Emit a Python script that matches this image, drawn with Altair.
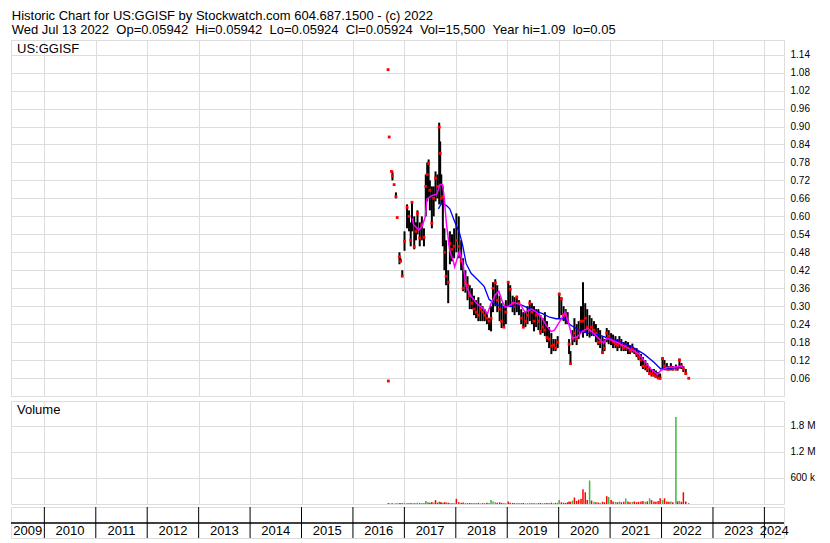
import altair as alt
import pandas as pd

FONT = "Liberation Sans, Arial, sans-serif"
TITLE_1 = "Historic Chart for US:GGISF by Stockwatch.com 604.687.1500 - (c) 2022"
TITLE_2 = ("Wed Jul 13 2022 \u00a0Op=0.05942 \u00a0Hi=0.05942 \u00a0Lo=0.05924 \u00a0Cl=0.05924"
           " \u00a0Vol=15,500 \u00a0Year hi=1.09 \u00a0lo=0.05")

dates = [
    "2016-09-07", "2016-09-09", "2016-09-15", "2016-10-01", "2016-10-08", "2016-10-20",
    "2016-11-02", "2016-11-11", "2016-11-27", "2016-12-05", "2016-12-17",
    "2017-01-02", "2017-01-20", "2017-02-03", "2017-02-15", "2017-02-24", "2017-03-12",
    "2017-03-24", "2017-04-04", "2017-04-20", "2017-05-05", "2017-05-20", "2017-06-02",
    "2017-06-12", "2017-06-22", "2017-07-01", "2017-07-15", "2017-07-28", "2017-08-10",
    "2017-08-24", "2017-09-05", "2017-09-12", "2017-09-20", "2017-10-01", "2017-10-12",
    "2017-10-24", "2017-11-08", "2017-11-20", "2017-12-05", "2017-12-20",
    "2018-01-05", "2018-01-22", "2018-02-08", "2018-02-22", "2018-03-10", "2018-03-25",
    "2018-04-10", "2018-04-25", "2018-05-10", "2018-05-25", "2018-06-10", "2018-06-25",
    "2018-07-10", "2018-07-25", "2018-08-10", "2018-08-25", "2018-09-08", "2018-09-22",
    "2018-10-08", "2018-10-22", "2018-11-08", "2018-11-22", "2018-12-08", "2018-12-22",
    "2019-01-08", "2019-01-22", "2019-02-08", "2019-02-22", "2019-03-10", "2019-03-25",
    "2019-04-10", "2019-04-25", "2019-05-10", "2019-05-25", "2019-06-10", "2019-06-25",
    "2019-07-10", "2019-07-25", "2019-08-10", "2019-08-25", "2019-09-10", "2019-09-25",
    "2019-10-10", "2019-10-25", "2019-11-10", "2019-11-25", "2019-12-10", "2019-12-25",
    "2020-01-05", "2020-01-20", "2020-02-05", "2020-02-20", "2020-03-05", "2020-03-15",
    "2020-03-25", "2020-04-08", "2020-04-22", "2020-05-08", "2020-05-22", "2020-06-08",
    "2020-06-22", "2020-07-08", "2020-07-22", "2020-08-08", "2020-08-22", "2020-09-08",
    "2020-09-22", "2020-10-08", "2020-10-22", "2020-11-08", "2020-11-22", "2020-12-08",
    "2020-12-22",
    "2021-01-08", "2021-01-22", "2021-02-08", "2021-02-22", "2021-03-08", "2021-03-22",
    "2021-04-08", "2021-04-22", "2021-05-08", "2021-05-22", "2021-06-08", "2021-06-22",
    "2021-07-08", "2021-07-22", "2021-08-08", "2021-08-22", "2021-09-08", "2021-09-22",
    "2021-10-08", "2021-10-22", "2021-11-08", "2021-11-22", "2021-12-08", "2021-12-22",
    "2022-01-08", "2022-01-22", "2022-02-08", "2022-02-22", "2022-03-08", "2022-03-22",
    "2022-04-13", "2022-04-25", "2022-05-08", "2022-05-22", "2022-06-05", "2022-06-22",
    "2022-07-13",
]
highs = [
    1.09, 0.05, 0.865, 0.75, 0.75, 0.706, 0.68, 0.596, 0.48, 0.46, 0.42,
    0.55, 0.64, 0.62, 0.58, 0.65, 0.60, 0.58, 0.62, 0.58, 0.60, 0.56, 0.74,
    0.78, 0.79, 0.72, 0.70, 0.70, 0.75, 0.74, 0.913, 0.85, 0.74, 0.70, 0.56,
    0.52, 0.42, 0.55, 0.54, 0.56,
    0.61, 0.60, 0.52, 0.46, 0.42, 0.40, 0.37, 0.36, 0.335, 0.32, 0.33, 0.31,
    0.30, 0.29, 0.28, 0.26, 0.30, 0.38, 0.39, 0.37, 0.335, 0.31, 0.30, 0.32,
    0.38, 0.37, 0.335, 0.33, 0.335, 0.32, 0.29, 0.28, 0.28, 0.30, 0.32, 0.31,
    0.30, 0.29, 0.29, 0.27, 0.26, 0.28, 0.25, 0.23, 0.21, 0.19, 0.19, 0.20,
    0.345, 0.33, 0.30, 0.29, 0.28, 0.19, 0.15, 0.22, 0.26, 0.24, 0.25, 0.30,
    0.38, 0.31, 0.29, 0.27, 0.26, 0.25, 0.24, 0.227, 0.22, 0.20, 0.19, 0.227,
    0.22,
    0.21, 0.205, 0.20, 0.19, 0.20, 0.19, 0.18, 0.184, 0.18, 0.17, 0.175, 0.16,
    0.16, 0.15, 0.14, 0.13, 0.12, 0.11, 0.097, 0.09, 0.09, 0.085, 0.08, 0.075,
    0.13, 0.12, 0.11, 0.10, 0.11, 0.10, 0.105, 0.10, 0.125, 0.11, 0.10, 0.09,
    0.0594,
]
lows = [
    1.09, 0.05, 0.865, 0.75, 0.72, 0.706, 0.66, 0.596, 0.44, 0.45, 0.40,
    0.485, 0.56, 0.55, 0.50, 0.55, 0.49, 0.52, 0.54, 0.50, 0.52, 0.50, 0.60,
    0.65, 0.66, 0.62, 0.56, 0.60, 0.65, 0.66, 0.64, 0.70, 0.64, 0.50, 0.42,
    0.37, 0.31, 0.44, 0.45, 0.46,
    0.48, 0.46, 0.42, 0.35, 0.345, 0.32, 0.29, 0.29, 0.27, 0.26, 0.25, 0.25,
    0.25, 0.25, 0.24, 0.22, 0.216, 0.28, 0.30, 0.28, 0.25, 0.227, 0.23, 0.24,
    0.30, 0.30, 0.28, 0.27, 0.28, 0.27, 0.24, 0.227, 0.23, 0.24, 0.25, 0.24,
    0.216, 0.23, 0.22, 0.205, 0.21, 0.20, 0.18, 0.16, 0.14, 0.15, 0.15, 0.16,
    0.26, 0.27, 0.25, 0.24, 0.24, 0.14, 0.108, 0.17, 0.18, 0.17, 0.19, 0.21,
    0.195, 0.21, 0.20, 0.195, 0.20, 0.20, 0.18, 0.17, 0.16, 0.14, 0.15, 0.18,
    0.173,
    0.17, 0.16, 0.16, 0.15, 0.16, 0.15, 0.15, 0.15, 0.14, 0.14, 0.145, 0.14,
    0.13, 0.12, 0.10, 0.09, 0.086, 0.08, 0.07, 0.065, 0.065, 0.06, 0.06, 0.055,
    0.09, 0.086, 0.086, 0.085, 0.086, 0.085, 0.086, 0.085, 0.092, 0.09, 0.08, 0.07,
    0.0592,
]
closes = [
    1.09, 0.05, 0.865, 0.75, 0.735, 0.706, 0.666, 0.596, 0.465, 0.45, 0.40,
    0.517, 0.63, 0.60, 0.52, 0.647, 0.498, 0.55, 0.61, 0.528, 0.572, 0.53, 0.70,
    0.74, 0.777, 0.687, 0.577, 0.66, 0.728, 0.70, 0.898, 0.81, 0.66, 0.666, 0.48,
    0.40, 0.38, 0.51, 0.49, 0.50,
    0.52, 0.50, 0.45, 0.36, 0.38, 0.37, 0.335, 0.31, 0.29, 0.28, 0.27, 0.29,
    0.28, 0.27, 0.26, 0.25, 0.26, 0.36, 0.378, 0.32, 0.29, 0.25, 0.23, 0.28,
    0.38, 0.356, 0.31, 0.30, 0.33, 0.31, 0.26, 0.23, 0.25, 0.27, 0.31, 0.28,
    0.25, 0.27, 0.25, 0.216, 0.23, 0.22, 0.195, 0.19, 0.167, 0.17, 0.16, 0.18,
    0.34, 0.324, 0.27, 0.27, 0.25, 0.173, 0.108, 0.19, 0.21, 0.19, 0.22, 0.25,
    0.25, 0.26, 0.23, 0.22, 0.23, 0.22, 0.21, 0.18, 0.18, 0.146, 0.16, 0.21,
    0.20,
    0.19, 0.18, 0.173, 0.17, 0.18, 0.17, 0.16, 0.17, 0.16, 0.15, 0.16, 0.15,
    0.14, 0.13, 0.12, 0.10, 0.10, 0.09, 0.075, 0.075, 0.07, 0.065, 0.06, 0.06,
    0.125, 0.10, 0.09, 0.09, 0.095, 0.09, 0.09, 0.095, 0.12, 0.10, 0.09, 0.075,
    0.0592,
]
volumes_k = [
    15, 10, 12, 10, 14, 8, 12, 10, 20, 15, 18,
    30, 25, 20, 15, 25, 20, 18, 30, 20, 25, 20, 67,
    40, 35, 30, 45, 30, 90, 30, 60, 40, 35, 30, 40,
    35, 30, 25, 20, 25,
    120, 40, 30, 35, 25, 20, 25, 20, 15, 20, 25, 15,
    20, 15, 30, 20, 90, 60, 40, 30, 40, 25, 20, 20,
    60, 30, 25, 20, 25, 15, 20, 25, 15, 20, 25, 15,
    20, 15, 20, 25, 15, 20, 25, 20, 30, 20, 25, 30,
    90, 40, 30, 25, 40, 60, 50, 80, 150, 70, 100, 120,
    340, 270, 90, 540, 80, 50, 40, 35, 30, 50, 40, 180,
    160,
    90, 60, 50, 40, 60, 40, 50, 130, 60, 40, 50, 60,
    40, 50, 60, 70, 50, 60, 130, 90, 60, 50, 70, 130,
    90, 130, 60, 50, 60, 40, 2000, 60, 70, 50, 270, 60,
    15.5,
]
vol_dirs = [
    "g", "r", "r", "r", "r", "r", "r", "r", "r", "r", "r",
    "g", "g", "r", "r", "g", "r", "g", "g", "r", "g", "r", "g",
    "g", "g", "r", "r", "g", "r", "r", "g", "r", "r", "g", "r",
    "r", "r", "g", "r", "g",
    "r", "r", "r", "r", "g", "r", "r", "r", "r", "r", "r", "g",
    "r", "r", "r", "r", "g", "g", "g", "r", "r", "r", "r", "g",
    "r", "r", "r", "r", "g", "r", "r", "r", "g", "g", "g", "r",
    "r", "g", "r", "r", "g", "r", "r", "r", "r", "g", "r", "g",
    "g", "r", "r", "r", "r", "r", "r", "g", "r", "r", "r", "r",
    "r", "r", "r", "g", "r", "g", "r", "r", "g", "r", "r", "r",
    "g",
    "r", "r", "g", "r", "g", "r", "r", "g", "r", "r", "g", "r",
    "r", "r", "r", "r", "g", "r", "g", "r", "r", "r", "r", "r",
    "g", "r", "r", "r", "g", "r", "g", "r", "g", "r", "r", "r",
    "r",
]

# Short moving average (magenta): fractional year, value
fast_ma_t = [2017.15, 2017.185, 2017.28, 2017.343, 2017.406, 2017.44, 2017.534, 2017.63,
             2017.692, 2017.744, 2017.776, 2017.82, 2017.852, 2017.883, 2017.948, 2017.978,
             2018.074, 2018.138, 2018.201, 2018.297, 2018.425, 2018.551, 2018.615, 2018.678,
             2018.774, 2018.837, 2018.901, 2018.964, 2019.027, 2019.123, 2019.25, 2019.346,
             2019.474, 2019.569, 2019.664, 2019.76, 2019.855, 2019.918, 2020.013, 2020.128,
             2020.204, 2020.267, 2020.362, 2020.458, 2020.553, 2020.648, 2020.776, 2020.872,
             2020.935, 2021.03, 2021.158, 2021.286, 2021.411, 2021.539, 2021.667, 2021.793,
             2021.921, 2021.984, 2022.112, 2022.239, 2022.365, 2022.43]
fast_ma_v = [0.593, 0.571, 0.555, 0.566, 0.598, 0.658, 0.669, 0.674,
             0.706, 0.706, 0.658, 0.571, 0.528, 0.485, 0.452, 0.431,
             0.485, 0.44, 0.366, 0.333, 0.306, 0.29, 0.274, 0.306,
             0.339, 0.35, 0.317, 0.296, 0.30, 0.312, 0.306, 0.28,
             0.29, 0.28, 0.263, 0.236, 0.215, 0.22, 0.247, 0.28,
             0.236, 0.193, 0.198, 0.215, 0.225, 0.215, 0.193, 0.177,
             0.193, 0.187, 0.177, 0.166, 0.155, 0.144, 0.117, 0.09,
             0.072, 0.085, 0.096, 0.096, 0.10, 0.096]

# Long moving average (blue)
slow_ma_t = [2017.662, 2017.725, 2017.82, 2017.883, 2017.978, 2018.074, 2018.138, 2018.201,
             2018.297, 2018.425, 2018.551, 2018.646, 2018.774, 2018.901, 2019.06, 2019.25,
             2019.378, 2019.537, 2019.695, 2019.823, 2019.95, 2020.109, 2020.236, 2020.395,
             2020.586, 2020.776, 2020.967, 2021.158, 2021.411, 2021.667, 2021.858, 2021.984,
             2022.112, 2022.43]
slow_ma_v = [0.625, 0.645, 0.636, 0.625, 0.582, 0.544, 0.50, 0.442,
             0.41, 0.388, 0.366, 0.323, 0.306, 0.30, 0.299, 0.306,
             0.296, 0.285, 0.274, 0.263, 0.258, 0.258, 0.236, 0.22,
             0.209, 0.204, 0.193, 0.183, 0.166, 0.139, 0.112, 0.09,
             0.092, 0.096]

price_ticks = [0.06, 0.12, 0.18, 0.24, 0.30, 0.36, 0.42, 0.48, 0.54, 0.60,
               0.66, 0.72, 0.78, 0.84, 0.90, 0.96, 1.02, 1.08, 1.14]
volume_ticks = [600000, 1200000, 1800000]
year_lines = [2010, 2011, 2012, 2013, 2014, 2015, 2016, 2017, 2018, 2019,
              2020, 2021, 2022, 2023, 2024]
year_labels = [2009, 2010, 2011, 2012, 2013, 2014, 2015, 2016, 2017, 2018,
               2019, 2020, 2021, 2022, 2023, 2024]

X_DOMAIN = [2009.3515, 2024.381]
PRICE_DOMAIN = [0, 1.189]
VOLUME_DOMAIN = [0, 2370000]

W = 773
H_PRICE = 356
H_VOL = 103
H_YEAR = 31


def frac_year(s):
    ts = pd.Timestamp(s)
    days = 366 if ts.is_leap_year else 365
    return ts.year + (ts.dayofyear - 1) / days


assert len(dates) == len(highs) == len(lows) == len(closes) == len(volumes_k) == len(vol_dirs)

price_df = pd.DataFrame({
    "t": [frac_year(d) for d in dates],
    "hi": highs, "lo": lows, "close": closes,
})
vol_df = pd.DataFrame({
    "t": [frac_year(d) for d in dates],
    "vol": [v * 1000 for v in volumes_k],
    "zero": [0] * len(dates),
    "dir": vol_dirs,
})
fast_df = pd.DataFrame({"t": fast_ma_t, "v": fast_ma_v})
slow_df = pd.DataFrame({"t": slow_ma_t, "v": slow_ma_v})

xscale = alt.Scale(domain=X_DOMAIN, nice=False, zero=False)


def x_grid():
    return alt.X("t:Q", scale=xscale,
                 axis=alt.Axis(values=year_lines, tickCount=60, labels=False, ticks=False,
                               domain=False, grid=True, title=None))


pscale = alt.Scale(domain=PRICE_DOMAIN, nice=False, zero=False)

bars = alt.Chart(price_df).mark_rule(color="black", strokeWidth=2).encode(
    x=x_grid(),
    y=alt.Y("lo:Q", scale=pscale,
            axis=alt.Axis(orient="right", values=price_ticks, tickCount=60, format=".2f",
                          title=None, grid=True, ticks=False, domain=False, labelPadding=6,
                          labelOverlap=False, labelBound=False, labelFlush=False)),
    y2="hi:Q",
)
slow_line = alt.Chart(slow_df).mark_line(color="#0000ff", strokeWidth=1.3).encode(
    x=alt.X("t:Q", scale=xscale), y=alt.Y("v:Q", scale=pscale))
fast_line = alt.Chart(fast_df).mark_line(color="#ff00ff", strokeWidth=1.5).encode(
    x=alt.X("t:Q", scale=xscale), y=alt.Y("v:Q", scale=pscale))
dots = alt.Chart(price_df).mark_square(color="#ff0000", size=8, opacity=1).encode(
    x=alt.X("t:Q", scale=xscale), y=alt.Y("close:Q", scale=pscale))
sym = alt.Chart(pd.DataFrame({"label": ["US:GGISF"]})).mark_text(
    align="left", baseline="top", font=FONT, fontSize=13, color="black").encode(
    x=alt.value(6), y=alt.value(3), text="label:N")

price = alt.layer(bars, dots, slow_line, fast_line, sym).properties(width=W, height=H_PRICE)

vscale = alt.Scale(domain=VOLUME_DOMAIN, nice=False, zero=False)
vbars = alt.Chart(vol_df).mark_rule(strokeWidth=1.5).encode(
    x=x_grid(),
    y=alt.Y("vol:Q", scale=vscale,
            axis=alt.Axis(orient="right", values=volume_ticks, tickCount=60, title=None,
                          grid=True, ticks=False, domain=False, labelPadding=6,
                          labelOverlap=False, labelBound=False, labelFlush=False,
                          labelExpr="datum.value >= 1000000 ? format(datum.value / 1000000, '.1f') + ' M' : format(datum.value / 1000, 'd') + ' k'")),
    y2="zero:Q",
    color=alt.Color("dir:N", scale=alt.Scale(domain=["g", "r"], range=["#3cb83c", "#ff0000"]),
                    legend=None),
)
vlabel = alt.Chart(pd.DataFrame({"label": ["Volume"]})).mark_text(
    align="left", baseline="top", font=FONT, fontSize=13, color="black").encode(
    x=alt.value(6), y=alt.value(3), text="label:N")
volume = alt.layer(vbars, vlabel).properties(width=W, height=H_VOL)

lo_d, hi_d = X_DOMAIN
label_df = pd.DataFrame({
    "label": [str(y) for y in year_labels],
    "pos": [(max(y, lo_d) + min(y + 1, hi_d)) / 2 for y in year_labels],
})
sep = alt.Chart(pd.DataFrame({"t": year_lines})).mark_rule(color="black", strokeWidth=1).encode(
    x=alt.X("t:Q", scale=xscale, axis=None))
midline = alt.Chart(pd.DataFrame({"a": [0]})).mark_rule(color="black", strokeWidth=1.5).encode(
    y=alt.value(16))
ylabels = alt.Chart(label_df).mark_text(baseline="middle", font=FONT, fontSize=13,
                                        color="black").encode(
    x=alt.X("pos:Q", scale=xscale, axis=None), y=alt.value(24), text="label:N")
years = alt.layer(sep, midline, ylabels).properties(width=W, height=H_YEAR)

chart = alt.vconcat(
    price,
    alt.vconcat(volume, years, spacing=0),
    spacing=3,
).properties(
    title=alt.TitleParams(text=[TITLE_1, TITLE_2], anchor="start", font=FONT, fontSize=13,
                          fontWeight="normal", color="black", lineHeight=14, offset=3, dx=2),
    padding={"left": 1, "top": 1, "right": 0, "bottom": 0},
).configure_view(
    stroke="black", strokeWidth=2
).configure_axis(
    gridColor="#c8c8c8", gridWidth=1, gridOpacity=1, labelFont=FONT, labelFontSize=12,
    labelColor="black"
).configure(background="white")

chart.save("out.html", embed_options={"renderer": "svg", "actions": False})
